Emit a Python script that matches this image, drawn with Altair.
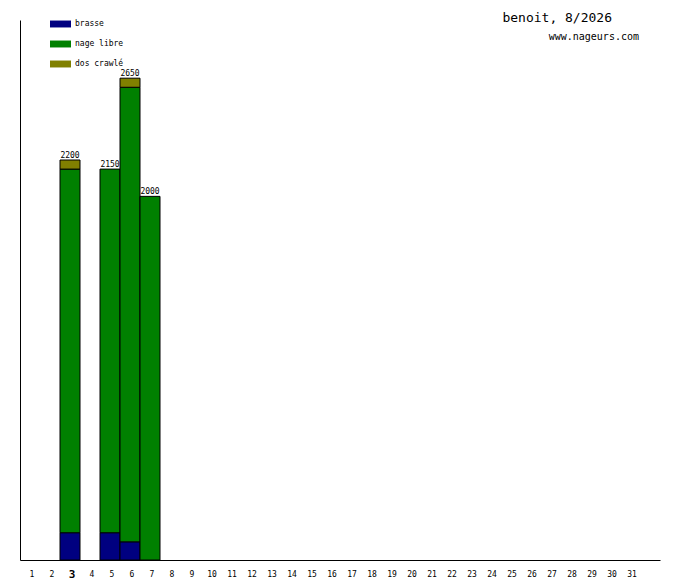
import altair as alt
import pandas as pd

days = [3, 5, 6, 7]
brasse = [150, 150, 100, 0]
nage_libre = [2000, 2000, 2500, 2000]
dos_crawle = [50, 0, 50, 0]
strokes = ["brasse", "nage libre", "dos crawlé"]
colors = ["#000080", "#008000", "#808000"]
all_days = list(range(1, 33))
today = 3

rows = []
for i, d in enumerate(days):
    for k, (name, vals) in enumerate(zip(strokes, [brasse, nage_libre, dos_crawle])):
        if vals[i] > 0:
            rows.append({"day": d, "nage": name, "m": vals[i], "ord": k})
df = pd.DataFrame(rows)
totals = pd.DataFrame({"day": days, "total": [a + b + c for a, b, c in zip(brasse, nage_libre, dos_crawle)]})

FONT = "DejaVu Sans Mono"

xscale = alt.Scale(domain=all_days, paddingInner=0, paddingOuter=0)
yscale = alt.Scale(domain=[0, 2970], nice=False)

bars = alt.Chart(df).mark_bar(stroke="black", strokeWidth=1).encode(
    x=alt.X("day:O", scale=xscale, axis=alt.Axis(
        title=None, ticks=False, grid=False, labelAngle=0, domainColor="black",
        labelFont=FONT, labelPadding=14, labelColor="black", labelOffset=2,
        labelBaseline="middle",
        labelExpr="datum.value == 32 ? '' : datum.label",
        labelFontSize={"condition": {"test": f"datum.value == {today}", "value": 11}, "value": 8},
        labelFontWeight={"condition": {"test": f"datum.value == {today}", "value": "bold"}, "value": "normal"},
    )),
    y=alt.Y("m:Q", stack="zero", scale=yscale, axis=alt.Axis(
        title=None, ticks=False, labels=False, grid=False, domainColor="black")),
    color=alt.Color("nage:N", scale=alt.Scale(domain=strokes, range=colors), sort=strokes,
                    legend=alt.Legend(
                        title=None, orient="none", legendX=30, legendY=-6.5, padding=0,
                        symbolType="M-1,-0.33L1,-0.33L1,0.33L-1,0.33Z", symbolSize=441,
                        symbolStrokeWidth=0, rowPadding=5, labelOffset=4,
                        labelFont=FONT, labelFontSize=8, labelColor="black")),
    order=alt.Order("ord:Q"),
)

labels = alt.Chart(totals).mark_text(font=FONT, fontSize=8, baseline="bottom", dy=0, color="black").encode(
    x=alt.X("day:O", scale=xscale),
    y=alt.Y("total:Q", scale=yscale),
    text=alt.Text("total:Q"),
)

title = alt.Chart(pd.DataFrame({"t": ["benoit, 8/2026"]})).mark_text(
    font=FONT, fontSize=13, align="right", baseline="middle", color="black").encode(
    x=alt.value(592), y=alt.value(-2), text="t:N")
sub = alt.Chart(pd.DataFrame({"t": ["www.nageurs.com"]})).mark_text(
    font=FONT, fontSize=10, align="right", baseline="middle", color="black").encode(
    x=alt.value(619), y=alt.value(17), text="t:N")

chart = alt.layer(bars, labels, title, sub).properties(
    width=640, height=540,
    background="white",
    autosize=alt.AutoSizeParams(type="none"),
    padding={"left": 12, "top": 12, "right": 12, "bottom": 20},
).configure_view(strokeWidth=0, stroke=None)

chart.save("out.html", embed_options={"renderer": "svg", "actions": False})
